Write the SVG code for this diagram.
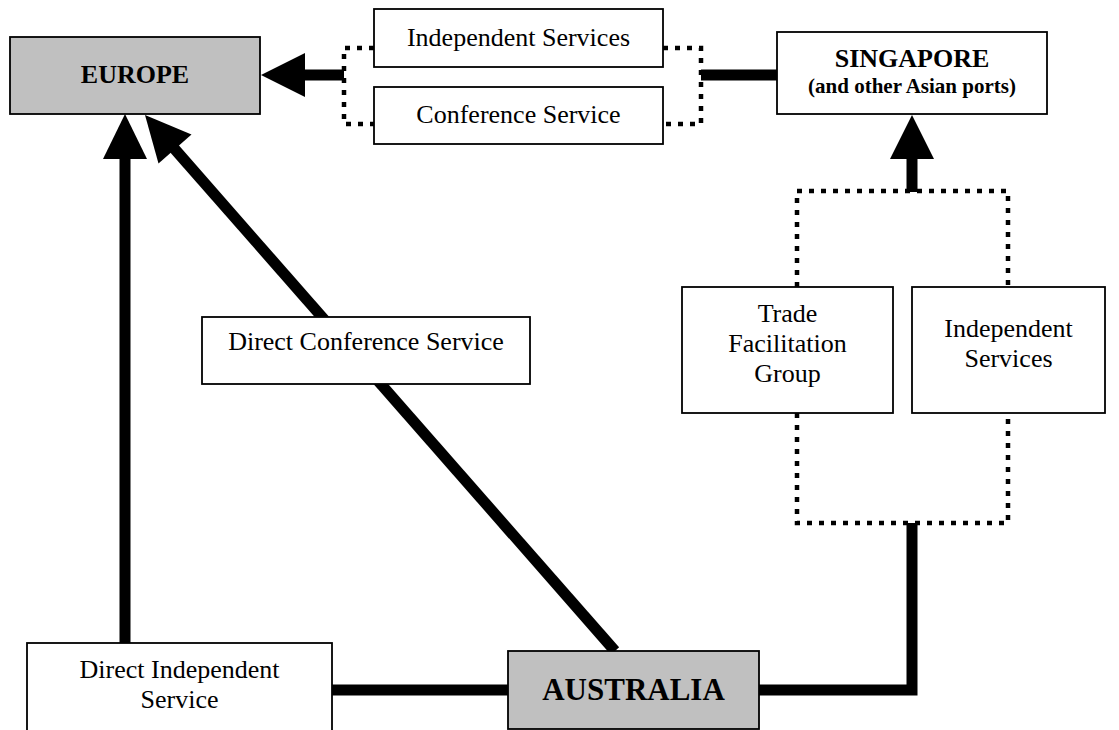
<svg xmlns="http://www.w3.org/2000/svg" width="1119" height="730" viewBox="0 0 1119 730">
  <style>
    .box { fill: #ffffff; stroke: #000000; stroke-width: 1.8; }
    .grey { fill: #c0c0c0; }
    .txt { font-family: "Liberation Serif", "Times New Roman", serif; font-size: 26px; fill: #000000; text-anchor: middle; }
    .bold { font-weight: bold; }
    .thick { fill: none; stroke: #000000; stroke-width: 11; stroke-linejoin: miter; }
    .dotted { fill: none; stroke: #000000; stroke-width: 4.5; stroke-dasharray: 5 7; }
    .head { fill: #000000; stroke: none; }
  </style>
  <rect width="1119" height="730" fill="#ffffff"/>

  <!-- connectors -->
  <g id="connectors">
    <!-- Europe–Singapore service bracket -->
    <path class="dotted" d="M 374 48 H 344 V 124 H 374"/>
    <path class="dotted" d="M 663 48 H 701 V 124 H 663"/>
    <line class="thick" x1="344" y1="75" x2="300" y2="75"/>
    <polygon class="head" points="261,75 305,53 305,97"/>
    <line class="thick" x1="701" y1="75" x2="777" y2="75"/>

    <!-- Australia–Singapore service bracket -->
    <line class="thick" x1="912" y1="192" x2="912" y2="154"/>
    <polygon class="head" points="912,115 890,159 934,159"/>
    <path class="dotted" d="M 797 287 V 191 H 1008 V 287"/>
    <path class="dotted" d="M 797 413 V 523 H 1008 V 413"/>
    <path class="thick" d="M 912 523 V 690 H 759"/>

    <!-- direct routes to Europe -->
    <line class="thick" x1="332" y1="690" x2="508" y2="690"/>
    <line class="thick" x1="125" y1="643" x2="125" y2="154"/>
    <polygon class="head" points="125,114 103,159 147,159"/>
    <line class="thick" x1="615" y1="651" x2="172" y2="146"/>
    <polygon class="head" points="145,115 191.5,134.5 158.5,163.5"/>
  </g>

  <g id="europe">
    <rect class="box grey" x="10" y="37" width="250" height="77"/>
    <text class="txt bold" x="135" y="83">EUROPE</text>
  </g>

  <g id="independent-services-asia">
    <rect class="box" x="374" y="9" width="289" height="58"/>
    <text class="txt" x="518.5" y="46">Independent Services</text>
  </g>

  <g id="conference-service-asia">
    <rect class="box" x="374" y="87" width="289" height="57"/>
    <text class="txt" x="518.5" y="123">Conference Service</text>
  </g>

  <g id="singapore">
    <rect class="box" x="777" y="32" width="270" height="82"/>
    <text class="txt bold" x="912" y="67">SINGAPORE</text>
    <text class="txt bold" x="912" y="93" style="font-size:21px">(and other Asian ports)</text>
  </g>

  <g id="trade-facilitation-group">
    <rect class="box" x="682" y="287" width="211" height="126"/>
    <text class="txt" x="787.5" y="322">Trade</text>
    <text class="txt" x="787.5" y="352">Facilitation</text>
    <text class="txt" x="787.5" y="382">Group</text>
  </g>

  <g id="independent-services-australia">
    <rect class="box" x="912" y="287" width="193" height="126"/>
    <text class="txt" x="1008.5" y="337">Independent</text>
    <text class="txt" x="1008.5" y="367">Services</text>
  </g>

  <g id="direct-conference-service">
    <rect class="box" x="202" y="317" width="328" height="67"/>
    <text class="txt" x="366" y="350">Direct Conference Service</text>
  </g>

  <g id="direct-independent-service">
    <rect class="box" x="27" y="643" width="305" height="90"/>
    <text class="txt" x="179.5" y="678">Direct Independent</text>
    <text class="txt" x="179.5" y="708">Service</text>
  </g>

  <g id="australia">
    <rect class="box grey" x="508" y="651" width="251" height="78"/>
    <text class="txt bold" x="633.5" y="700" style="font-size:31px">AUSTRALIA</text>
  </g>
</svg>
